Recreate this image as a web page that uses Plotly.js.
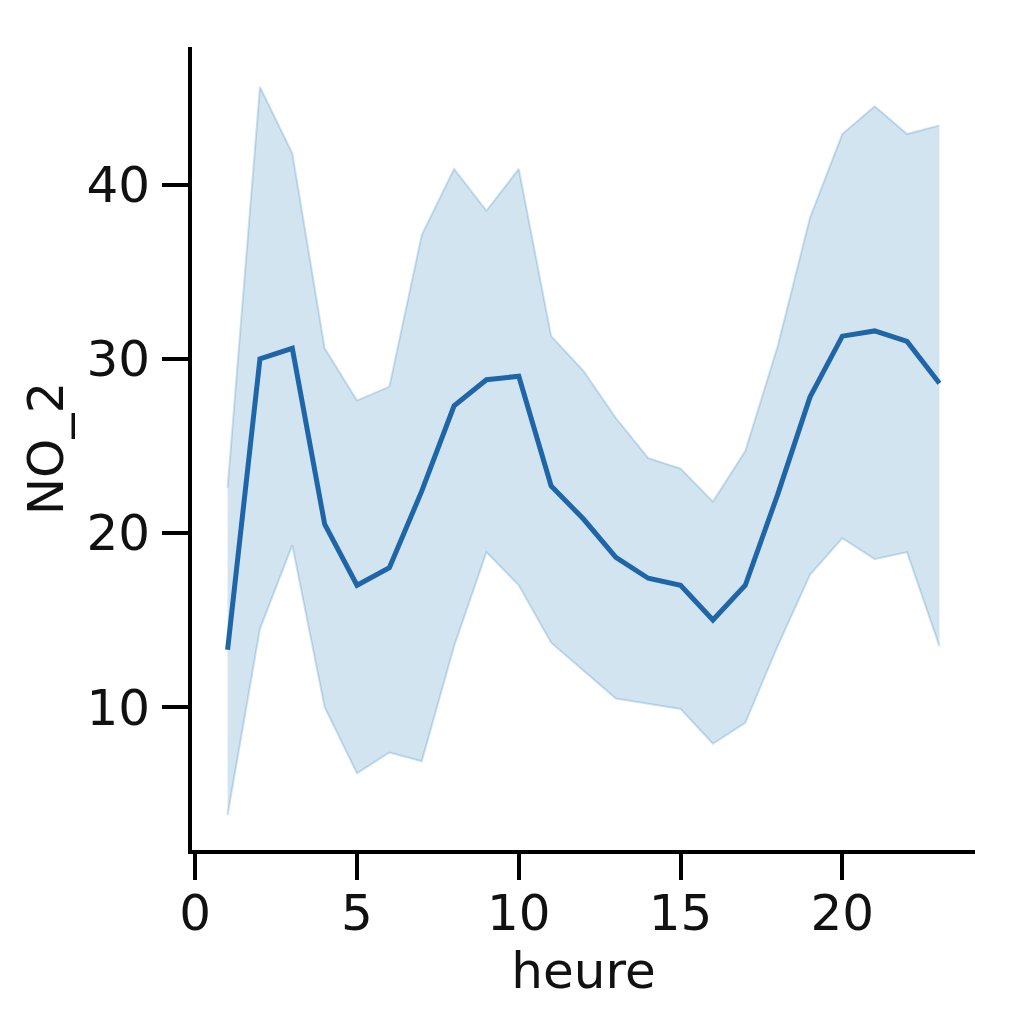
<!DOCTYPE html>
<html>
<head>
<meta charset="utf-8">
<script src="https://cdn.plot.ly/plotly-3.0.1.min.js"></script>
<style>
  html, body { margin: 0; padding: 0; background: #fff; }
  #plot { width: 1024px; height: 1024px; }
</style>
</head>
<body>
<div id="plot"></div>
<script>
// hourly NO_2 mean with confidence band
const heure = [1, 2, 3, 4, 5, 6, 7, 8, 9, 10, 11, 12, 13, 14, 15, 16, 17, 18, 19, 20, 21, 22, 23];
const no2Mean = [13.3, 30.0, 30.6, 20.5, 17.0, 18.0, 22.4, 27.3, 28.8, 29.0, 22.7, 20.8, 18.6, 17.4, 17.0, 15.0, 17.0, 22.2, 27.8, 31.3, 31.6, 31.0, 28.6];
const no2Upper = [22.6, 45.6, 41.8, 30.6, 27.6, 28.4, 37.1, 40.9, 38.5, 40.9, 31.3, 29.3, 26.6, 24.3, 23.7, 21.8, 24.7, 30.7, 38.1, 42.9, 44.5, 42.9, 43.4];
const no2Lower = [3.8, 14.5, 19.3, 10.0, 6.2, 7.4, 6.9, 13.5, 18.9, 17.0, 13.7, 12.1, 10.5, 10.2, 9.9, 7.9, 9.1, 13.5, 17.6, 19.7, 18.5, 18.9, 13.5];

const blue = '#1f66a8';
const bandEdge = 'rgba(31,119,180,0.22)';
const bandFill = 'rgba(31,119,180,0.2)';

function main() {
    const lower = {
        x: heure, y: no2Lower,
        mode: 'lines', type: 'scatter',
        line: { color: bandEdge, width: 2 },
        hoverinfo: 'skip', showlegend: false
    };
    const upper = {
        x: heure, y: no2Upper,
        mode: 'lines', type: 'scatter',
        fill: 'tonexty', fillcolor: bandFill,
        line: { color: bandEdge, width: 2 },
        hoverinfo: 'skip', showlegend: false
    };
    const mean = {
        x: heure, y: no2Mean,
        mode: 'lines', type: 'scatter',
        line: { color: blue, width: 5 },
        showlegend: false
    };

    const font = { family: 'DejaVu Sans, sans-serif', size: 50, color: '#111' };

    const layout = {
        width: 1024, height: 1024,
        margin: { l: 192, r: 49, t: 47, b: 174 },
        paper_bgcolor: '#fff', plot_bgcolor: '#fff',
        font: font,
        xaxis: {
            range: [-0.1, 24.1],
            tickvals: [0, 5, 10, 15, 20],
            showgrid: false, zeroline: false,
            showline: true, linecolor: '#000', linewidth: 4,
            ticks: 'outside', ticklen: 26, tickwidth: 4, tickcolor: '#000',
            ticklabelstandoff: -10,
            tickfont: font,
            title: { text: 'heure', font: font, standoff: 12 },
            automargin: false
        },
        yaxis: {
            range: [1.8, 47.9],
            tickvals: [10, 20, 30, 40],
            showgrid: false, zeroline: false,
            showline: true, linecolor: '#000', linewidth: 4,
            ticks: 'outside', ticklen: 26, tickwidth: 4, tickcolor: '#000',
            ticklabelstandoff: 2,
            tickfont: font,
            title: { text: 'NO_2', font: font, standoff: 8 },
            automargin: false
        }
    };

    Plotly.newPlot('plot', [lower, upper, mean], layout, { staticPlot: true });
}

window.onload = main;
</script>
</body>
</html>
